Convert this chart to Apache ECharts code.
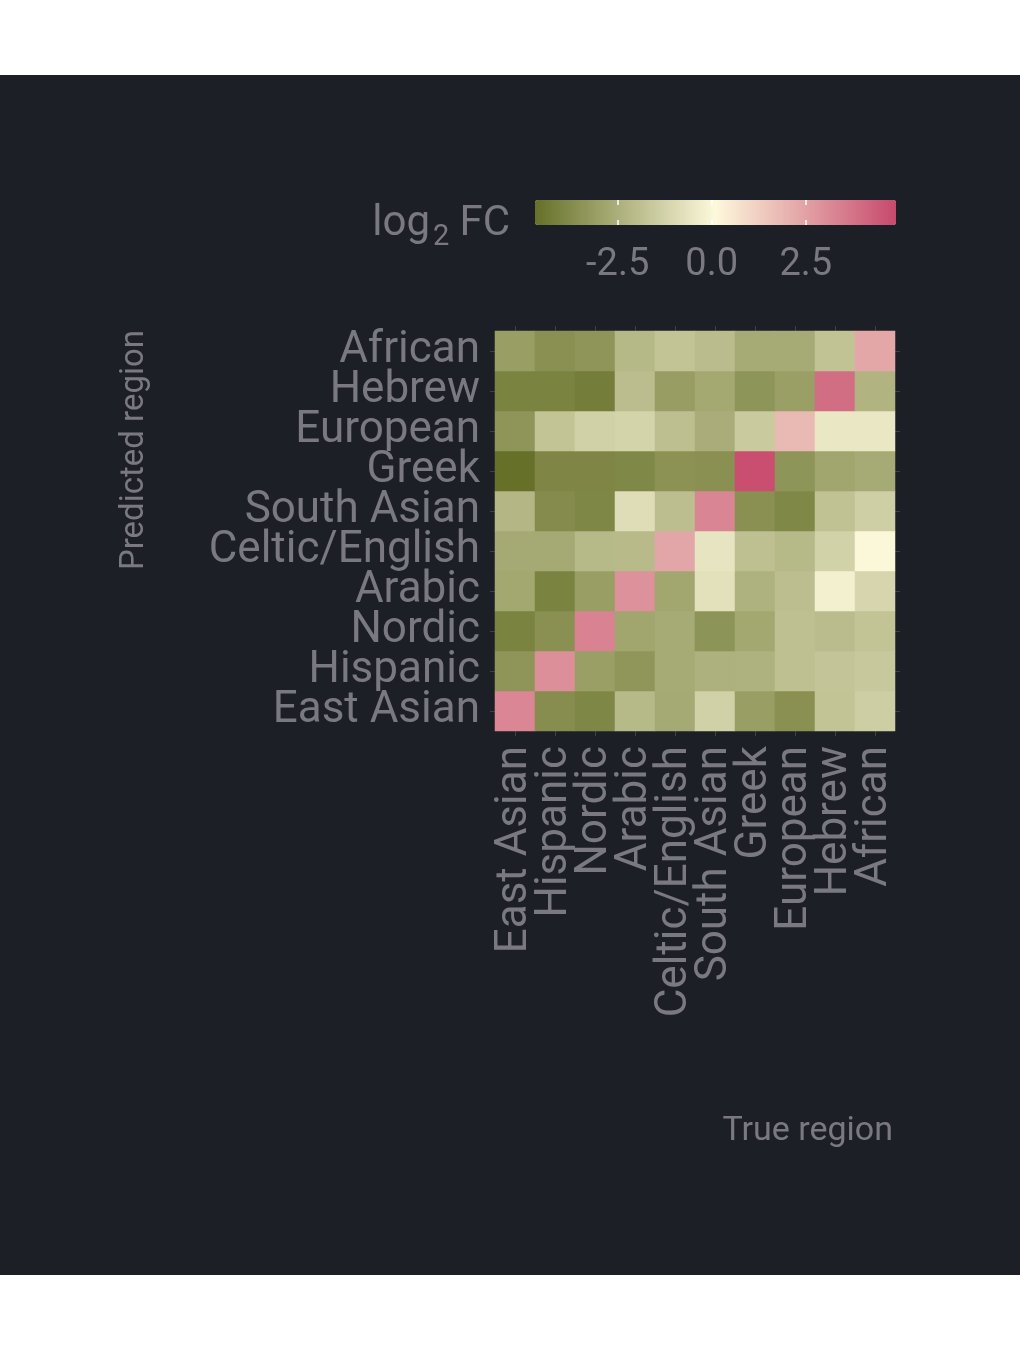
<!DOCTYPE html>
<html>
<head>
<meta charset="utf-8">
<script src="https://cdn.jsdelivr.net/npm/echarts@6/dist/echarts.min.js"></script>
<style>
  html, body { margin: 0; padding: 0; background: #ffffff; }
  #wrap { position: relative; width: 1020px; height: 1350px; }
  #band { position: absolute; left: 0; top: 75px; width: 1020px; height: 1200px; background: #1d1f27; }
  #main { position: absolute; left: 0; top: 0; width: 1020px; height: 1350px; }
</style>
</head>
<body>
<div id="wrap">
  <div id="band"></div>
  <div id="main"></div>
</div>
<script>
// region order, bottom-to-top on y and left-to-right on x
const regions = ['East Asian', 'Hispanic', 'Nordic', 'Arabic', 'Celtic/English',
  'South Asian', 'Greek', 'European', 'Hebrew', 'African'];

// log2 fold change, one row per predicted region (same order as regions),
// columns = true region
const logFC = [
  [3.23, -3.67, -3.89, -2.15, -2.71, -1.31, -3.08, -3.58, -1.77, -1.40], // East Asian
  [-3.39, 3.00, -3.05, -3.36, -2.65, -2.43, -2.40, -1.90, -1.74, -1.62], // Hispanic
  [-4.05, -3.58, 3.34, -2.83, -2.68, -3.45, -2.77, -1.90, -2.02, -1.77], // Nordic
  [-2.77, -4.05, -3.08, 2.95, -2.80, -0.75, -2.40, -1.96, -0.22, -1.15], // Arabic
  [-2.71, -2.71, -2.15, -2.09, 2.37, -0.62, -1.90, -2.15, -1.28, 0.05],  // Celtic/English
  [-2.21, -3.74, -3.89, -0.87, -1.96, 3.26, -3.58, -3.86, -1.84, -1.37], // South Asian
  [-4.70, -3.92, -3.92, -3.86, -3.52, -3.58, 4.76, -3.42, -2.83, -2.68], // Greek
  [-3.39, -1.77, -1.31, -1.21, -1.93, -2.55, -1.53, 1.84, -0.53, -0.53], // European
  [-4.05, -4.05, -4.23, -1.99, -3.11, -2.74, -3.42, -3.05, 3.90, -2.33], // Hebrew
  [-3.08, -3.58, -3.39, -2.18, -1.77, -2.02, -2.68, -2.68, -1.80, 2.34]  // African
];

const legendTicks = [-2.5, 0, 2.5];
const fcMin = -4.7;
const fcMax = 4.9;
const palette = ['#667028', '#fdf9dc', '#c7496d'];

const textColor = '#7a7982';
const tickColor = '#3d4049';
const font = 'Roboto';

const cells = [];
logFC.forEach(function (row, yi) {
  row.forEach(function (v, xi) {
    cells.push([xi, yi, v]);
  });
});

const chart = echarts.init(document.getElementById('main'));

const catTick = { show: true, alignWithLabel: true, interval: 0, length: 5, lineStyle: { color: tickColor, width: 1 } };

chart.setOption({
  backgroundColor: 'transparent',
  animation: false,
  grid: [
    // whole-pixel cells (40px) so neighbouring rects meet without seams
    { left: 495, top: 331, width: 400, height: 400 },
    { left: 535, top: 200, width: 361, height: 25 }
  ],
  xAxis: [
    {
      type: 'category', gridIndex: 0, data: regions,
      axisLine: { show: false }, axisTick: catTick, splitLine: { show: false },
      axisLabel: { interval: 0, hideOverlap: false, rotate: 90, margin: 15, fontSize: 44, fontFamily: font, color: textColor }
    },
    {
      type: 'category', gridIndex: 0, data: regions, position: 'top',
      axisLine: { show: false }, axisTick: catTick, axisLabel: { show: false }
    },
    {
      type: 'value', gridIndex: 1, min: fcMin, max: fcMax, z: 10,
      axisLine: { show: false }, splitLine: { show: false },
      axisTick: { customValues: legendTicks, inside: true, length: 5, lineStyle: { color: '#ffffff', width: 1.5 } },
      axisLabel: {
        customValues: legendTicks, margin: 21, fontSize: 38, fontFamily: font, color: textColor,
        formatter: function (v) { return v.toFixed(1); }
      }
    },
    {
      type: 'value', gridIndex: 1, min: fcMin, max: fcMax, z: 10, position: 'top',
      axisLine: { show: false }, splitLine: { show: false },
      axisTick: { customValues: legendTicks, inside: true, length: 5, lineStyle: { color: '#ffffff', width: 1.5 } },
      axisLabel: { show: false }
    }
  ],
  yAxis: [
    {
      type: 'category', gridIndex: 0, data: regions,
      axisLine: { show: false }, axisTick: catTick, splitLine: { show: false },
      axisLabel: { interval: 0, hideOverlap: false, margin: 15, padding: [6, 0, 0, 0], fontSize: 44, fontFamily: font, color: textColor }
    },
    {
      type: 'category', gridIndex: 0, data: regions, position: 'right',
      axisLine: { show: false }, axisTick: catTick, axisLabel: { show: false }
    },
    { type: 'value', gridIndex: 1, show: false, min: 0, max: 1 }
  ],
  visualMap: {
    type: 'continuous', seriesIndex: 0, min: fcMin, max: fcMax,
    orient: 'horizontal', left: 535, top: 200, itemWidth: 25, itemHeight: 361,
    padding: 0, calculable: false, hoverLink: false,
    inRange: { color: palette }
  },
  graphic: [
    { type: 'text', x: 430, y: 224, style: { text: 'log', align: 'right', verticalAlign: 'middle', fontSize: 42, fontFamily: font, fill: textColor } },
    { type: 'text', x: 433, y: 238, style: { text: '2', align: 'left', verticalAlign: 'middle', fontSize: 29, fontFamily: font, fill: textColor } },
    { type: 'text', x: 510, y: 224, style: { text: 'FC', align: 'right', verticalAlign: 'middle', fontSize: 42, fontFamily: font, fill: textColor } },
    { type: 'text', x: 135, y: 450, rotation: Math.PI / 2, style: { text: 'Predicted region', align: 'center', verticalAlign: 'middle', fontSize: 33, fontFamily: font, fill: textColor } },
    { type: 'text', x: 893, y: 1131, style: { text: 'True region', align: 'right', verticalAlign: 'middle', fontSize: 34, fontFamily: font, fill: textColor } }
  ],
  series: [
    {
      type: 'heatmap', xAxisIndex: 0, yAxisIndex: 0, data: cells,
      itemStyle: { borderWidth: 0 },
      emphasis: { disabled: true }
    },
    { type: 'scatter', xAxisIndex: 2, yAxisIndex: 2, data: [], silent: true }
  ]
});
</script>
</body>
</html>
